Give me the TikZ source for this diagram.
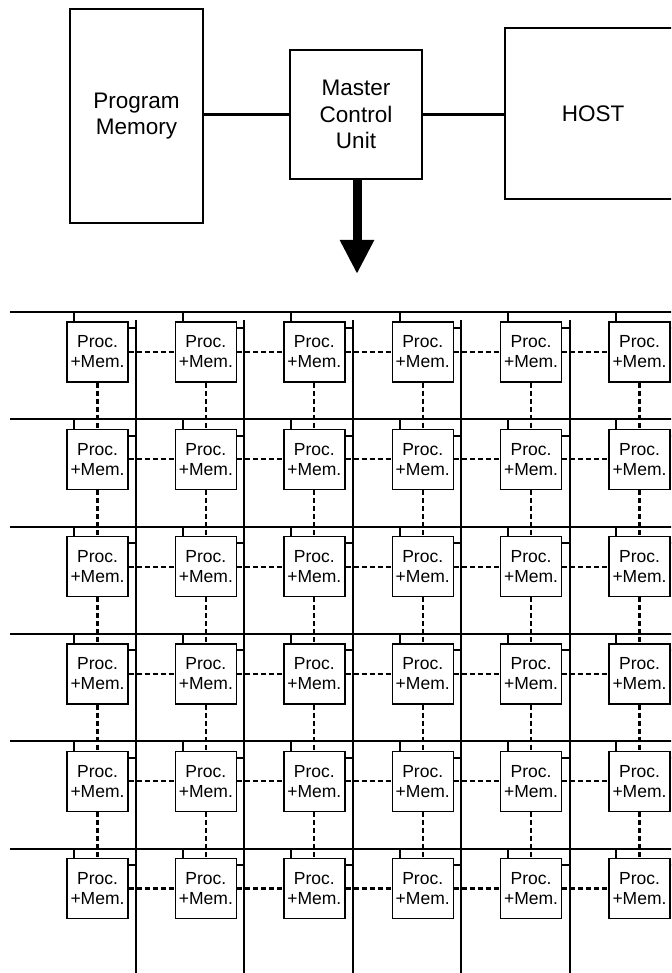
\documentclass[tikz,border=0pt]{standalone}
\usepackage{fontspec}
\setmainfont{Liberation Sans}
\usetikzlibrary{arrows.meta}
\tikzset{
 bigbox/.style={draw, line width=1.6pt, inner sep=0pt, align=center, font=\fontsize{22.5}{26.7}\selectfont},
 pebox/.style={draw, line width=1.4pt, minimum width=61pt, minimum height=60pt, inner sep=0pt, align=center, font=\fontsize{17.5}{20}\selectfont, fill=white},
 bus/.style={line width=2pt},
 link/.style={line width=2.2pt, dash pattern=on 5pt off 3pt},
 conn/.style={line width=3.2pt},
}
\begin{document}
\begin{tikzpicture}[x=1pt,y=-1pt]
\useasboundingbox (0,0) rectangle (671,973);
\clip (0,0) rectangle (671,973);
% top part
\node[bigbox, minimum width=133pt, minimum height=214pt] (pm) at (136.5,116) {Program\\Memory};
\node[bigbox, minimum width=132pt, minimum height=129pt] (mcu) at (356,114.5) {Master\\Control\\Unit};
\node[bigbox, minimum width=176pt, minimum height=171pt] (host) at (593,113.5) {HOST};
\draw[conn] (mcu.west) -- (mcu.west -| pm.east);
\draw[conn] (mcu.east) -- (mcu.east -| host.west);
\coordinate (tip) at (357,274);
\draw[line width=9pt, -{Triangle[width=32pt,length=34pt]}] (mcu.south -| tip) -- (tip);
% buses
\foreach \i in {0,...,5} {
  \coordinate (hl-\i) at (10,{312+107.3*\i});
  \coordinate (hr-\i) at (680,{312+107.3*\i});
  \draw[bus] (hl-\i) -- (hr-\i);
}
\foreach \j in {0,...,5} {
  \coordinate (vt-\j) at ({136+108.4*\j},320);
  \coordinate (vb-\j) at ({136+108.4*\j},980);
  \draw[bus] (vt-\j) -- (vb-\j);
}
% processing elements
\foreach \i in {0,...,5} {
  \foreach \j in {0,...,5} {
    \node[pebox] (b-\i-\j) at ({97.5+108.4*\j},{352+107.3*\i}) {Proc.\\+Mem.};
    \draw[bus] ([xshift=8pt]b-\i-\j.north west) -- ([xshift=8pt]b-\i-\j.north west |- hl-\i);
    \draw[bus] ([yshift=-7pt]b-\i-\j.north east) -- ([yshift=-7pt]b-\i-\j.north east -| vt-\j);
  }
}
% nearest-neighbour links
\foreach \i in {0,...,5} {
  \foreach \j in {0,...,4} {
    \pgfmathtruncatemacro{\jn}{\j+1}
    \draw[link] (b-\i-\j.east) -- (b-\i-\jn.west);
  }
}
\foreach \i in {0,...,4} {
  \pgfmathtruncatemacro{\inx}{\i+1}
  \foreach \j in {0,...,5} {
    \draw[link] (b-\i-\j.south) -- (b-\inx-\j.north);
  }
}
\end{tikzpicture}
\end{document}
